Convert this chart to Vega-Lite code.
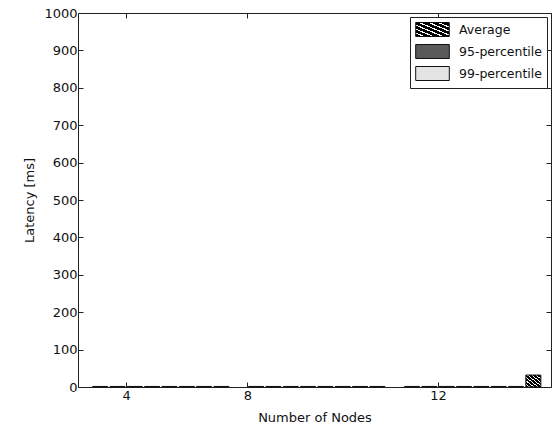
{
  "$schema": "https://vega.github.io/schema/vega-lite/v6.json",
  "autosize": {"type": "none"},
  "padding": {"left": 78, "top": 13, "right": 1, "bottom": 43},
  "width": 473,
  "height": 374,
  "background": "white",
  "config": {
    "view": {"stroke": "#222", "strokeWidth": 1},
    "font": "DejaVu Sans",
    "axis": {
      "grid": false,
      "domainColor": "#222",
      "tickColor": "#222",
      "labelColor": "#111",
      "titleColor": "#111",
      "labelFont": "DejaVu Sans",
      "titleFont": "DejaVu Sans",
      "labelFontSize": 13,
      "titleFontSize": 13,
      "titleFontWeight": "normal",
      "tickSize": -5
    }
  },
  "data": {
    "values": [
      {"slot": 0, "series": "95-percentile", "latency": 1.5},
      {"slot": 1, "series": "99-percentile", "latency": 1.5},
      {"slot": 2, "series": "Average", "latency": 1.5},
      {"slot": 3, "series": "95-percentile", "latency": 1.5},
      {"slot": 4, "series": "99-percentile", "latency": 1.5},
      {"slot": 5, "series": "Average", "latency": 1.5},
      {"slot": 6, "series": "95-percentile", "latency": 1.5},
      {"slot": 7, "series": "99-percentile", "latency": 1.5},
      {"slot": 9, "series": "Average", "latency": 1.5},
      {"slot": 10, "series": "95-percentile", "latency": 1.5},
      {"slot": 11, "series": "99-percentile", "latency": 1.5},
      {"slot": 12, "series": "Average", "latency": 1.5},
      {"slot": 13, "series": "95-percentile", "latency": 1.5},
      {"slot": 14, "series": "99-percentile", "latency": 1.5},
      {"slot": 15, "series": "Average", "latency": 1.5},
      {"slot": 16, "series": "95-percentile", "latency": 1.5},
      {"slot": 18, "series": "99-percentile", "latency": 1.5},
      {"slot": 19, "series": "Average", "latency": 1.5},
      {"slot": 20, "series": "95-percentile", "latency": 1.5},
      {"slot": 21, "series": "99-percentile", "latency": 1.5},
      {"slot": 22, "series": "Average", "latency": 1.5},
      {"slot": 23, "series": "95-percentile", "latency": 1.5},
      {"slot": 24, "series": "99-percentile", "latency": 1.5},
      {"slot": 25, "series": "Average", "latency": 32}
    ]
  },
  "layer": [
    {
      "mark": {"type": "bar", "width": 15, "stroke": "#111", "strokeWidth": 1},
      "encoding": {
        "x": {
          "field": "slot",
          "type": "quantitative",
          "scale": {"domain": [-0.99, 25.73], "nice": false, "zero": false},
          "axis": {
            "values": [1.5, 8.5, 19.5],
            "labelExpr": "datum.value == 1.5 ? '4' : datum.value == 8.5 ? '8' : '12'",
            "title": "Number of Nodes",
            "labelPadding": 7,
            "titlePadding": 9,
            "domain": false
          }
        },
        "y": {
          "field": "latency",
          "type": "quantitative",
          "scale": {"domain": [0, 1000], "nice": false},
          "axis": {
            "values": [0, 100, 200, 300, 400, 500, 600, 700, 800, 900, 1000],
            "format": "d",
            "title": "Latency [ms]",
            "labelPadding": 6,
            "titlePadding": 7,
            "domain": false
          }
        },
        "fill": {
          "field": "series",
          "type": "nominal",
          "scale": {
            "domain": ["Average", "95-percentile", "99-percentile"],
            "range": [
              {"expr": "{gradient: 'linear', x1: 0, y1: 1, x2: 1, y2: 0, stops: [{offset: 0, color: 'black'}, {offset: 0.1, color: 'black'}, {offset: 0.1, color: 'white'}, {offset: 0.1429, color: 'white'}, {offset: 0.1429, color: 'black'}, {offset: 0.2429, color: 'black'}, {offset: 0.2429, color: 'white'}, {offset: 0.2857, color: 'white'}, {offset: 0.2857, color: 'black'}, {offset: 0.3857, color: 'black'}, {offset: 0.3857, color: 'white'}, {offset: 0.4286, color: 'white'}, {offset: 0.4286, color: 'black'}, {offset: 0.5286, color: 'black'}, {offset: 0.5286, color: 'white'}, {offset: 0.5714, color: 'white'}, {offset: 0.5714, color: 'black'}, {offset: 0.6714, color: 'black'}, {offset: 0.6714, color: 'white'}, {offset: 0.7143, color: 'white'}, {offset: 0.7143, color: 'black'}, {offset: 0.8143, color: 'black'}, {offset: 0.8143, color: 'white'}, {offset: 0.8571, color: 'white'}, {offset: 0.8571, color: 'black'}, {offset: 0.9571, color: 'black'}, {offset: 0.9571, color: 'white'}, {offset: 1, color: 'white'}]}"},
              "#5a5a5a",
              "#e4e4e4"
            ]
          },
          "legend": {
            "title": null,
            "orient": "top-right",
            "offset": 4,
            "strokeColor": "#222",
            "fillColor": "white",
            "padding": 5,
            "labelFont": "DejaVu Sans",
            "labelFontSize": 12.5,
            "labelColor": "#111",
            "labelOffset": 19,
            "symbolOffset": 10,
            "symbolType": "M-2.4,-1H2.4V1H-2.4Z",
            "symbolSize": 196,
            "symbolStrokeColor": "#111",
            "symbolStrokeWidth": 1,
            "symbolOpacity": 1,
            "rowPadding": 3
          }
        }
      }
    },
    {
      "mark": {"type": "point", "opacity": 0},
      "encoding": {
        "x": {
          "field": "slot",
          "type": "quantitative",
          "axis": {"orient": "top", "values": [1.5, 8.5, 19.5], "labels": false, "title": null, "domain": false}
        },
        "y": {
          "field": "latency",
          "type": "quantitative",
          "axis": {"orient": "right", "values": [0, 100, 200, 300, 400, 500, 600, 700, 800, 900, 1000], "labels": false, "title": null, "domain": false}
        }
      }
    }
  ],
  "resolve": {"axis": {"x": "independent", "y": "independent"}}
}
